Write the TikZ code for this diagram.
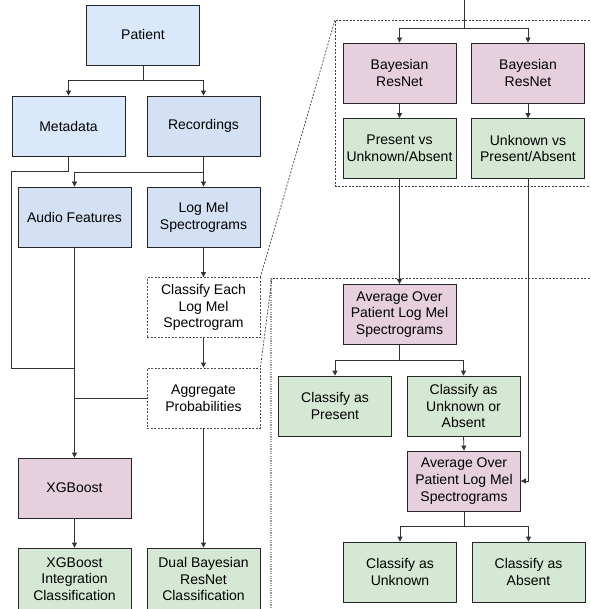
\documentclass[tikz,border=0pt]{standalone}
\usepackage{fontspec}
\setmainfont{Liberation Sans}
\usepackage{xcolor}
\usetikzlibrary{arrows.meta,calc,positioning}
\definecolor{bluea}{HTML}{DAE8FC}
\definecolor{blueb}{HTML}{D4E1F5}
\definecolor{pinka}{HTML}{E6D0DE}
\definecolor{greena}{HTML}{D5E8D4}
\tikzset{
box/.style={draw=black!85,line width=0.8pt,minimum width=113pt,minimum height=60pt,inner sep=2pt,align=center,font=\fontsize{14}{16.8}\selectfont},
bluebox/.style={box,fill=bluea},
blueboxb/.style={box,fill=blueb},
pinkbox/.style={box,fill=pinka},
greenbox/.style={box,fill=greena},
dashbox/.style={box,fill=white,draw=black!70,dash pattern=on 2pt off 1.5pt},
arr/.style={-{Triangle[length=5pt,width=5pt]},draw=black!80,line width=0.8pt},
ln/.style={draw=black!80,line width=0.8pt},
zone/.style={draw=black!75,line width=0.7pt,dash pattern=on 2pt off 1.5pt}
}
\begin{document}
\begin{tikzpicture}[x=1pt,y=1pt]
\useasboundingbox (0,0) rectangle (590,-609);
\clip (0,0) rectangle (590,-609);

% zoom-in frames
\coordinate (zoneA) at (335,-20);
\coordinate (zoneB) at (272,-278);
\draw[zone] (600,-20) -- (zoneA) -- (335,-186) -- (600,-186);
\draw[zone] (600,-278) -- (zoneB);
\draw[gray!80,line width=1.2pt,dash pattern=on 1.2pt off 1.2pt] (271,-278) -- (271,-620);

% left column
\node[bluebox] (patient) at (143,-35) {Patient};
\node[bluebox] (meta) at (68.5,-126) {Metadata};
\node[blueboxb] (rec) at (203.5,-126) {Recordings};
\node[blueboxb] (audio) at (74.5,-217) {Audio Features};
\node[blueboxb] (logmel) at (203.5,-217) {Log Mel\\Spectrograms};
\node[dashbox] (classify) at (203.5,-307.5) {Classify Each\\Log Mel\\Spectrogram};
\node[dashbox] (aggr) at (203.5,-398) {Aggregate\\Probabilities};
\node[pinkbox] (xgb) at (74.5,-488) {XGBoost};
\node[greenbox,minimum height=62pt] (xgbcls) at (74.5,-579) {XGBoost\\Integration\\Classification};
\node[greenbox,minimum height=62pt] (dualcls) at (203.5,-579) {Dual Bayesian\\ResNet\\Classification};

\coordinate (j1) at (74.5,-368);
\coordinate (j2) at (74.5,-398);

\draw[arr] (patient.south) -- ++(0,-15) -| (meta.north);
\draw[arr] (patient.south) -- ++(0,-15) -| (rec.north);
\draw[ln] (meta.south) -- ++(0,-15) -- ++(-57.5,0) |- (j1);
\draw[arr] (rec.south) -- ++(0,-16) -| (audio.north);
\draw[ln] (aggr.west) -- (j2);
\foreach \a/\b in {rec/logmel,logmel/classify,classify/aggr,audio/xgb,xgb/xgbcls,aggr/dualcls}{
\draw[arr] (\a.south) -- (\b.north);
}

% right side
\node[pinkbox] (bres1) at (399.5,-73) {Bayesian\\ResNet};
\node[pinkbox] (bres2) at (528,-73) {Bayesian\\ResNet};
\node[greenbox] (pres) at (399.5,-148.5) {Present vs\\Unknown/Absent};
\node[greenbox] (unk) at (528,-148.5) {Unknown vs\\Present/Absent};
\node[pinkbox] (avg1) at (399.5,-314.5) {Average Over\\Patient Log Mel\\Spectrograms};
\node[greenbox] (clspres) at (335,-406) {Classify as\\Present};
\node[greenbox] (clsunkabs) at (463.5,-406) {Classify as\\Unknown or\\Absent};
\node[pinkbox] (avg2) at (464,-481) {Average Over\\Patient Log Mel\\Spectrograms};
\node[greenbox] (clsunk) at (400,-572) {Classify as\\Unknown};
\node[greenbox] (clsabs) at (528.5,-572) {Classify as\\Absent};

\coordinate (top) at (464,0);
\coordinate (split) at (464,-28);
\draw[ln] (top) -- (split);
\draw[arr] (split) -| (bres1.north);
\draw[arr] (split) -| (bres2.north);
\draw[arr] (unk.south) |- (avg2.east);
\draw[arr] (avg1.south) -- ++(0,-15) -| (clspres.north);
\draw[arr] (avg1.south) -- ++(0,-15) -| (clsunkabs.north);
\draw[arr] (avg2.south) -- ++(0,-15) -| (clsunk.north);
\draw[arr] (avg2.south) -- ++(0,-15) -| (clsabs.north);
\foreach \a/\b in {bres1/pres,bres2/unk,pres/avg1,clsunkabs/avg2}{
\draw[arr] (\a.south) -- (\b.north);
}

% links to the frames
\draw[zone] (zoneA) -- (classify.north east);
\draw[zone] (zoneB) -- (aggr.north east);
\end{tikzpicture}
\end{document}
